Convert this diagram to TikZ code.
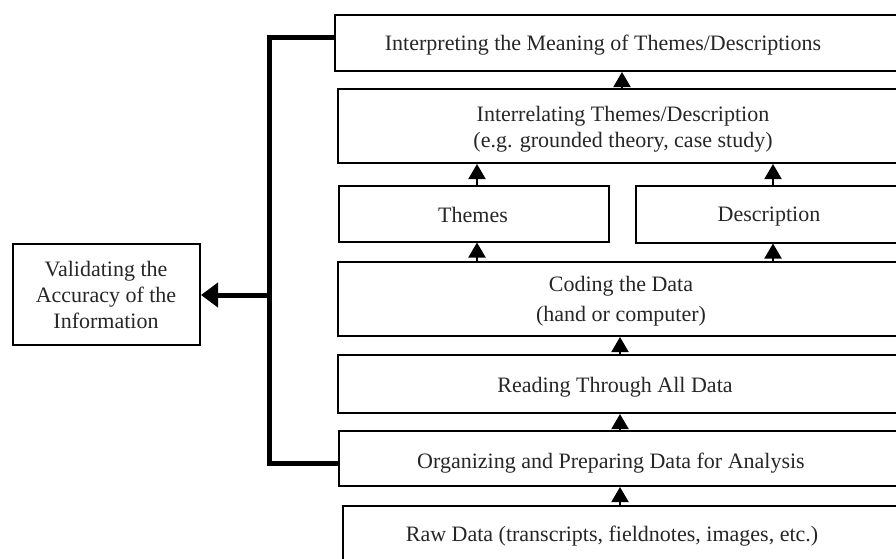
\documentclass[tikz,border=0pt]{standalone}
\usepackage{fontspec}
\setmainfont{Liberation Serif}
\usetikzlibrary{arrows.meta}
\begin{document}
\begin{tikzpicture}[x=1pt,y=-1pt,
  box/.style={draw=black,line width=2pt,rectangle,inner sep=0pt},
  txt/.style={font=\fontsize{22}{26}\selectfont,align=center,inner sep=0pt,text=black!85},
  arr/.style={line width=2pt,-{Triangle[length=15pt,width=17pt]}},
  thick arr/.style={line width=5pt,-{Triangle[length=17pt,width=24pt]}},
  bracket/.style={line width=5pt}]
\useasboundingbox (0,0) rectangle (896,558);
\clip (0,0) rectangle (896,558);
% boxes
\node[box,minimum width=586pt,minimum height=56pt] (interp) at (628,43) {};
\node[box,minimum width=583pt,minimum height=74pt] (interrel) at (629,126) {};
\node[box,minimum width=270pt,minimum height=56pt] (themes) at (474,213.5) {};
\node[box,minimum width=290pt,minimum height=57pt] (desc) at (781,214) {};
\node[box,minimum width=583pt,minimum height=74pt] (coding) at (629,299) {};
\node[box,minimum width=583pt,minimum height=58pt] (reading) at (629,384) {};
\node[box,minimum width=582pt,minimum height=55pt] (organ) at (630,458.5) {};
\node[box,minimum width=580pt,minimum height=80pt] (raw) at (633,546) {};
\node[box,minimum width=187pt,minimum height=101pt] (valid) at (106.5,294.5) {};
% texts
\node[txt] (tinterp) at (603,45) {Interpreting the Meaning of Themes/Descriptions};
\node[txt] (tinterrel) at (623,129) {Interrelating Themes/Description\\(e.g. grounded theory, case study)};
\node[txt] (tthemes) at (473,215) {Themes};
\node[txt] (tdesc) at (769,217) {Description};
\node[txt,font=\fontsize{22}{30}\selectfont] (tcoding) at (621,301) {Coding the Data\\(hand or computer)};
\node[txt] (treading) at (615,387) {Reading Through All Data};
\node[txt] (torgan) at (611,463) {Organizing and Preparing Data for Analysis};
\node[txt] (traw) at (612,536) {Raw Data (transcripts, fieldnotes, images, etc.)};
\node[txt] (tvalid) at (106,295) {Validating the\\Accuracy of the\\Information};
% arrow x positions
\coordinate (xa) at (620,0);
\coordinate (xb) at (477,0);
\coordinate (xc) at (773,0);
\coordinate (xd) at (622,0);
\draw[arr] (raw.north -| xa) -- (organ.south -| xa);
\draw[arr] (organ.north -| xa) -- (reading.south -| xa);
\draw[arr] (reading.north -| xa) -- (coding.south -| xa);
\draw[arr] (coding.north -| xb) -- (themes.south -| xb);
\draw[arr] (coding.north -| xc) -- (desc.south -| xc);
\draw[arr] (themes.north -| xb) -- (interrel.south -| xb);
\draw[arr] (desc.north -| xc) -- (interrel.south -| xc);
\draw[arr] (interrel.north -| xd) -- (interp.south -| xd);
% bracket
\coordinate (bx) at (269,0);
\coordinate (btop) at (269,37);
\coordinate (bbot) at (269,463);
\coordinate (bmid) at (269,295);
\draw[bracket,line join=miter] (interp.west |- btop) -- (btop) -- (bbot) -- (organ.west |- bbot);
\draw[thick arr] (bmid) -- (valid.east |- bmid);
\end{tikzpicture}
\end{document}
